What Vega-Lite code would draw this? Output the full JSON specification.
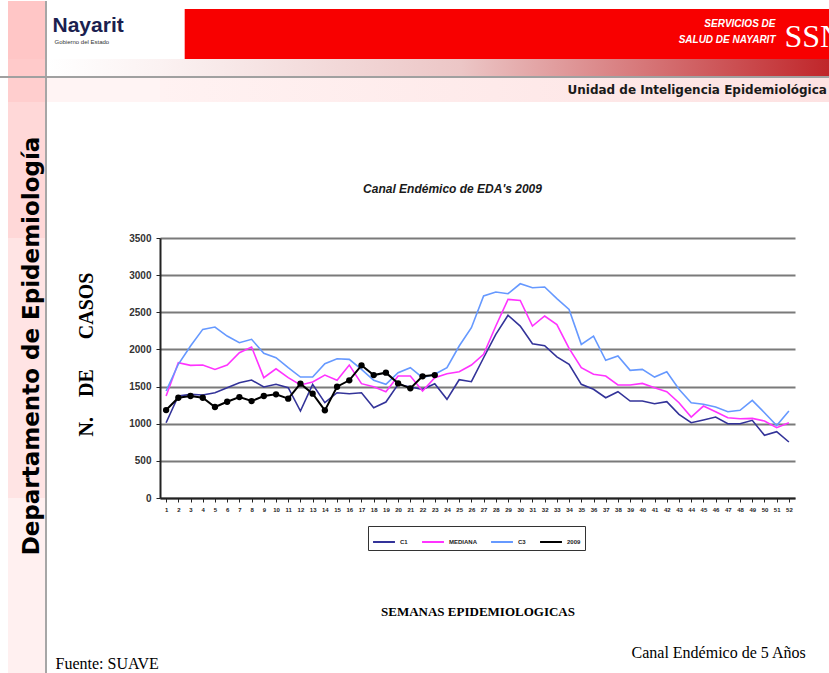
{
  "$schema": "https://vega.github.io/schema/vega-lite/v6.json",
  "padding": 0,
  "background": "white",
  "config": {"view": {"stroke": null}, "font": "Liberation Sans"},
  "bounds": "flush",
  "spacing": 0,
  "columns": 3,
  "concat": [
    {"width": 47, "height": 8, "view": {"fill": {"gradient": "linear", "x1": 0, "y1": 0, "x2": 1, "y2": 0, "stops": [{"offset": 0, "color": "#FFFFFF"}, {"offset": 0.16, "color": "#FFFFFF"}, {"offset": 0.17, "color": "#FFC6C6"}, {"offset": 0.955, "color": "#FFC6C6"}, {"offset": 0.96, "color": "#A6A6A6"}, {"offset": 1, "color": "#A6A6A6"}]}}, "data": {"values": [{"t": ""}]}, "mark": {"type": "text", "fontSize": 1}, "encoding": {"text": {"field": "t"}}},
    {"width": 1, "height": 1, "data": {"values": [{"t": ""}]}, "mark": {"type": "text", "fontSize": 1}, "encoding": {"text": {"field": "t"}}},
    {"width": 1, "height": 1, "data": {"values": [{"t": ""}]}, "mark": {"type": "text", "fontSize": 1}, "encoding": {"text": {"field": "t"}}},

    {"width": 47, "height": 50, "view": {"fill": {"gradient": "linear", "x1": 0, "y1": 0, "x2": 1, "y2": 0, "stops": [{"offset": 0, "color": "#FFFFFF"}, {"offset": 0.16, "color": "#FFFFFF"}, {"offset": 0.17, "color": "#FFC6C6"}, {"offset": 0.955, "color": "#FFC6C6"}, {"offset": 0.96, "color": "#A6A6A6"}, {"offset": 1, "color": "#A6A6A6"}]}}, "data": {"values": [{"t": ""}]}, "mark": {"type": "text", "fontSize": 1}, "encoding": {"text": {"field": "t"}}},
    {
      "width": 113, "height": 50,
      "data": {"values": [{"t": "Nayarit", "s": "Gobierno del Estado"}]},
      "layer": [
        {"mark": {"type": "text", "font": "Liberation Sans", "fontSize": 21, "fontWeight": "bold", "color": "#1B1F4F", "align": "left", "baseline": "alphabetic", "dx": -51, "dy": -2}, "encoding": {"text": {"field": "t"}}},
        {"mark": {"type": "text", "font": "Liberation Sans", "fontSize": 6, "color": "#333333", "align": "left", "baseline": "alphabetic", "dx": -49, "dy": 10}, "encoding": {"text": {"field": "s"}}}
      ]
    },
    {
      "width": 669, "height": 50,
      "view": {"fill": {"gradient": "linear", "x1": 0, "y1": 0, "x2": 1, "y2": 0, "stops": [{"offset": 0, "color": "#FFFFFF"}, {"offset": 0.036, "color": "#FFFFFF"}, {"offset": 0.038, "color": "#F80000"}, {"offset": 1, "color": "#F80000"}]}},
      "data": {"values": [{"a": "SERVICIOS DE", "b": "SALUD DE NAYARIT", "c": "SSN"}]},
      "layer": [
        {"mark": {"type": "text", "font": "Liberation Sans", "fontSize": 10, "fontWeight": "bold", "fontStyle": "italic", "color": "white", "align": "right", "baseline": "alphabetic", "dx": 281, "dy": -7}, "encoding": {"text": {"field": "a"}}},
        {"mark": {"type": "text", "font": "Liberation Sans", "fontSize": 10, "fontWeight": "bold", "fontStyle": "italic", "color": "white", "align": "right", "baseline": "alphabetic", "dx": 281, "dy": 9}, "encoding": {"text": {"field": "b"}}},
        {"mark": {"type": "text", "font": "Liberation Sans Narrow", "fontSize": 32, "color": "white", "align": "left", "baseline": "alphabetic", "dx": 290, "dy": 13}, "encoding": {"text": {"field": "c"}}}
      ]
    },

    {"width": 47, "height": 17, "view": {"fill": {"gradient": "linear", "x1": 0, "y1": 0, "x2": 1, "y2": 0, "stops": [{"offset": 0, "color": "#FFFFFF"}, {"offset": 0.16, "color": "#FFFFFF"}, {"offset": 0.17, "color": "#FFCACA"}, {"offset": 0.955, "color": "#FFCACA"}, {"offset": 0.96, "color": "#A6A6A6"}, {"offset": 1, "color": "#A6A6A6"}]}}, "data": {"values": [{"t": ""}]}, "mark": {"type": "text", "fontSize": 1}, "encoding": {"text": {"field": "t"}}},
    {"width": 113, "height": 17, "view": {"fill": {"gradient": "linear", "x1": 0, "y1": 0, "x2": 1, "y2": 0, "stops": [{"offset": 0, "color": "#FFFFFF"}, {"offset": 1, "color": "#FBF2F2"}]}}, "data": {"values": [{"t": ""}]}, "mark": {"type": "text", "fontSize": 1}, "encoding": {"text": {"field": "t"}}},
    {"width": 669, "height": 17, "view": {"fill": {"gradient": "linear", "x1": 0, "y1": 0, "x2": 1, "y2": 0, "stops": [{"offset": 0, "color": "#FBF2F2"}, {"offset": 0.45, "color": "#ECC6C6"}, {"offset": 1, "color": "#C0262A"}]}}, "data": {"values": [{"t": ""}]}, "mark": {"type": "text", "fontSize": 1}, "encoding": {"text": {"field": "t"}}},

    {"width": 47, "height": 2, "view": {"fill": "#A0A0A0"}, "data": {"values": [{"t": ""}]}, "mark": {"type": "text", "fontSize": 1}, "encoding": {"text": {"field": "t"}}},
    {"width": 113, "height": 2, "view": {"fill": "#A0A0A0"}, "data": {"values": [{"t": ""}]}, "mark": {"type": "text", "fontSize": 1}, "encoding": {"text": {"field": "t"}}},
    {"width": 669, "height": 2, "view": {"fill": "#A0A0A0"}, "data": {"values": [{"t": ""}]}, "mark": {"type": "text", "fontSize": 1}, "encoding": {"text": {"field": "t"}}},

    {"width": 47, "height": 24, "view": {"fill": {"gradient": "linear", "x1": 0, "y1": 0, "x2": 1, "y2": 0, "stops": [{"offset": 0, "color": "#FFFFFF"}, {"offset": 0.16, "color": "#FFFFFF"}, {"offset": 0.17, "color": "#FFCECE"}, {"offset": 0.955, "color": "#FFCECE"}, {"offset": 0.96, "color": "#A6A6A6"}, {"offset": 1, "color": "#A6A6A6"}]}}, "data": {"values": [{"t": ""}]}, "mark": {"type": "text", "fontSize": 1}, "encoding": {"text": {"field": "t"}}},
    {"width": 113, "height": 24, "view": {"fill": "#FFF4F4"}, "data": {"values": [{"t": ""}]}, "mark": {"type": "text", "fontSize": 1}, "encoding": {"text": {"field": "t"}}},
    {
      "width": 669, "height": 24,
      "view": {"fill": {"gradient": "linear", "x1": 0, "y1": 0, "x2": 1, "y2": 0, "stops": [{"offset": 0, "color": "#FFF2F2"}, {"offset": 1, "color": "#FDE2E2"}]}},
      "data": {"values": [{"t": "Unidad de Inteligencia Epidemiológica"}]},
      "mark": {"type": "text", "font": "DejaVu Sans", "fontSize": 12, "fontWeight": "bold", "color": "#1a1a1a", "align": "left", "baseline": "alphabetic", "dx": 73, "dy": 4},
      "encoding": {"text": {"field": "t"}}
    },

    {"width": 47, "height": 136, "view": {"fill": {"gradient": "linear", "x1": 0, "y1": 0, "x2": 1, "y2": 0, "stops": [{"offset": 0, "color": "#FFFFFF"}, {"offset": 0.16, "color": "#FFFFFF"}, {"offset": 0.17, "color": "#FFD8D8"}, {"offset": 0.955, "color": "#FFD8D8"}, {"offset": 0.96, "color": "#A6A6A6"}, {"offset": 1, "color": "#A6A6A6"}]}}, "data": {"values": [{"t": ""}]}, "mark": {"type": "text", "fontSize": 1}, "encoding": {"text": {"field": "t"}}},
    {"width": 1, "height": 1, "data": {"values": [{"t": ""}]}, "mark": {"type": "text", "fontSize": 1}, "encoding": {"text": {"field": "t"}}},
    {"width": 1, "height": 1, "data": {"values": [{"t": ""}]}, "mark": {"type": "text", "fontSize": 1}, "encoding": {"text": {"field": "t"}}},

    {"width": 47, "height": 260, "view": {"fill": {"gradient": "linear", "x1": 0, "y1": 0, "x2": 1, "y2": 0, "stops": [{"offset": 0, "color": "#FFFFFF"}, {"offset": 0.16, "color": "#FFFFFF"}, {"offset": 0.17, "color": "#FFE4E4"}, {"offset": 0.955, "color": "#FFE4E4"}, {"offset": 0.96, "color": "#A6A6A6"}, {"offset": 1, "color": "#A6A6A6"}]}}, "data": {"values": [{"t": ""}]}, "mark": {"type": "text", "fontSize": 1}, "encoding": {"text": {"field": "t"}}},
    {"width": 1, "height": 1, "data": {"values": [{"t": ""}]}, "mark": {"type": "text", "fontSize": 1}, "encoding": {"text": {"field": "t"}}},
    {
      "width": 635, "height": 260,
      "title": {"text": "Canal Endémico de EDA's 2009", "font": "Liberation Sans", "fontSize": 12, "fontWeight": "bold", "fontStyle": "italic", "color": "#1a1a1a", "anchor": "middle", "offset": 37, "dx": -25},
      "data": {"values": [
        {"semana":1,"C1":1013,"MEDIANA":1373,"C3":1440,"2009":1184},
        {"semana":2,"C1":1373,"MEDIANA":1821,"C3":1800,"2009":1350},
        {"semana":3,"C1":1395,"MEDIANA":1786,"C3":2046,"2009":1373},
        {"semana":4,"C1":1386,"MEDIANA":1790,"C3":2270,"2009":1350},
        {"semana":5,"C1":1417,"MEDIANA":1731,"C3":2301,"2009":1225},
        {"semana":6,"C1":1485,"MEDIANA":1790,"C3":2180,"2009":1296},
        {"semana":7,"C1":1552,"MEDIANA":1956,"C3":2090,"2009":1359},
        {"semana":8,"C1":1588,"MEDIANA":2032,"C3":2136,"2009":1305},
        {"semana":9,"C1":1494,"MEDIANA":1620,"C3":1947,"2009":1373},
        {"semana":10,"C1":1530,"MEDIANA":1740,"C3":1888,"2009":1395},
        {"semana":11,"C1":1485,"MEDIANA":1620,"C3":1754,"2009":1337},
        {"semana":12,"C1":1171,"MEDIANA":1521,"C3":1628,"2009":1539},
        {"semana":13,"C1":1530,"MEDIANA":1561,"C3":1628,"2009":1404},
        {"semana":14,"C1":1283,"MEDIANA":1655,"C3":1808,"2009":1180},
        {"semana":15,"C1":1417,"MEDIANA":1584,"C3":1875,"2009":1498},
        {"semana":16,"C1":1404,"MEDIANA":1790,"C3":1866,"2009":1584},
        {"semana":17,"C1":1417,"MEDIANA":1539,"C3":1731,"2009":1786},
        {"semana":18,"C1":1216,"MEDIANA":1498,"C3":1584,"2009":1655},
        {"semana":19,"C1":1292,"MEDIANA":1431,"C3":1530,"2009":1687},
        {"semana":20,"C1":1530,"MEDIANA":1642,"C3":1687,"2009":1543},
        {"semana":21,"C1":1494,"MEDIANA":1642,"C3":1754,"2009":1476},
        {"semana":22,"C1":1463,"MEDIANA":1440,"C3":1620,"2009":1638},
        {"semana":23,"C1":1539,"MEDIANA":1620,"C3":1665,"2009":1655},
        {"semana":24,"C1":1328,"MEDIANA":1673,"C3":1754},
        {"semana":25,"C1":1592,"MEDIANA":1700,"C3":2046},
        {"semana":26,"C1":1566,"MEDIANA":1790,"C3":2292},
        {"semana":27,"C1":1888,"MEDIANA":1934,"C3":2719},
        {"semana":28,"C1":2203,"MEDIANA":2315,"C3":2772},
        {"semana":29,"C1":2459,"MEDIANA":2674,"C3":2750},
        {"semana":30,"C1":2315,"MEDIANA":2660,"C3":2884},
        {"semana":31,"C1":2077,"MEDIANA":2315,"C3":2830},
        {"semana":32,"C1":2050,"MEDIANA":2450,"C3":2840},
        {"semana":33,"C1":1900,"MEDIANA":2335,"C3":2685},
        {"semana":34,"C1":1799,"MEDIANA":2015,"C3":2539},
        {"semana":35,"C1":1530,"MEDIANA":1754,"C3":2068},
        {"semana":36,"C1":1463,"MEDIANA":1665,"C3":2180},
        {"semana":37,"C1":1350,"MEDIANA":1642,"C3":1853},
        {"semana":38,"C1":1431,"MEDIANA":1521,"C3":1911},
        {"semana":39,"C1":1305,"MEDIANA":1521,"C3":1718},
        {"semana":40,"C1":1305,"MEDIANA":1543,"C3":1731},
        {"semana":41,"C1":1269,"MEDIANA":1485,"C3":1628},
        {"semana":42,"C1":1296,"MEDIANA":1431,"C3":1700},
        {"semana":43,"C1":1126,"MEDIANA":1283,"C3":1463},
        {"semana":44,"C1":1013,"MEDIANA":1090,"C3":1283},
        {"semana":45,"C1":1050,"MEDIANA":1238,"C3":1261},
        {"semana":46,"C1":1090,"MEDIANA":1162,"C3":1225},
        {"semana":47,"C1":1000,"MEDIANA":1081,"C3":1162},
        {"semana":48,"C1":1000,"MEDIANA":1067,"C3":1180},
        {"semana":49,"C1":1046,"MEDIANA":1072,"C3":1315},
        {"semana":50,"C1":844,"MEDIANA":1036,"C3":1148},
        {"semana":51,"C1":892,"MEDIANA":946,"C3":975},
        {"semana":52,"C1":754,"MEDIANA":1013,"C3":1171}
      ]},
      "transform": [
        {"fold": ["C1", "MEDIANA", "C3", "2009"], "as": ["serie", "casos"]},
        {"filter": "isValid(datum.casos)"}
      ],
      "encoding": {
        "x": {
          "field": "semana", "type": "ordinal",
          "scale": {"type": "point", "padding": 0.5},
          "title": "SEMANAS EPIDEMIOLOGICAS",
          "axis": {"labelAngle": 0, "labelFontSize": 6, "labelFont": "Liberation Sans", "labelFontWeight": "bold", "labelColor": "#222222", "labelOverlap": false, "labelPadding": 4, "ticks": true, "tickSize": 4, "tickColor": "#222222", "domainColor": "#222222", "domainWidth": 2, "grid": false, "titleFont": "Liberation Serif", "titleFontSize": 13, "titleFontWeight": "bold", "titleColor": "black", "titlePadding": 93}
        },
        "y": {
          "field": "casos", "type": "quantitative",
          "scale": {"domain": [0, 3500]},
          "title": "N.\u00a0\u00a0\u00a0\u00a0DE\u00a0\u00a0\u00a0\u00a0\u00a0\u00a0CASOS",
          "axis": {"values": [0, 500, 1000, 1500, 2000, 2500, 3000, 3500], "format": "d", "labelFontSize": 10, "labelFont": "Liberation Sans", "labelFontWeight": "bold", "labelColor": "#333333", "labelPadding": 5, "tickSize": 4, "tickColor": "#222222", "domainColor": "#222222", "domainWidth": 2, "grid": true, "gridColor": "#7A7A7A", "gridWidth": 2, "titleFont": "Liberation Serif", "titleFontSize": 20, "titleFontWeight": "bold", "titleColor": "black", "titlePadding": 32, "titleY": 116}
        },
        "color": {
          "field": "serie", "type": "nominal",
          "scale": {"domain": ["C1", "MEDIANA", "C3", "2009"], "range": ["#333399", "#FF33FF", "#6699FF", "#000000"]},
          "legend": {"orient": "none", "legendX": 368, "legendY": 525, "direction": "horizontal", "title": null, "strokeColor": "#333333", "fillColor": "white", "padding": 4, "labelFontSize": 6, "labelFont": "Liberation Sans", "labelFontWeight": "bold", "labelColor": "#222222", "symbolType": "stroke", "symbolSize": 480, "symbolStrokeWidth": 2, "columnPadding": 10, "labelOffset": 4}
        }
      },
      "layer": [
        {"transform": [{"filter": "datum.serie != '2009'"}], "mark": {"type": "line", "strokeWidth": 1.6}},
        {"transform": [{"filter": "datum.serie == '2009'"}], "mark": {"type": "line", "strokeWidth": 2, "point": {"filled": true, "size": 40, "color": "black"}}}
      ]
    },

    {
      "width": 47, "height": 176,
      "view": {"fill": {"gradient": "linear", "x1": 0, "y1": 0, "x2": 1, "y2": 0, "stops": [{"offset": 0, "color": "#FFFFFF"}, {"offset": 0.16, "color": "#FFFFFF"}, {"offset": 0.17, "color": "#FFF0F0"}, {"offset": 0.955, "color": "#FFF0F0"}, {"offset": 0.96, "color": "#A6A6A6"}, {"offset": 1, "color": "#A6A6A6"}]}},
      "data": {"values": [{"t": "Departamento de Epidemiología"}]},
      "mark": {"type": "text", "angle": 270, "font": "DejaVu Sans", "fontSize": 23, "fontWeight": "bold", "color": "black", "align": "center", "baseline": "middle", "dx": 240, "dy": 8},
      "encoding": {"text": {"field": "t"}}
    },
    {"width": 1, "height": 1, "data": {"values": [{"t": ""}]}, "mark": {"type": "text", "fontSize": 1}, "encoding": {"text": {"field": "t"}}},
    {
      "width": 669, "height": 176,
      "data": {"values": [{"f": "Fuente: SUAVE", "c": "Canal Endémico de 5 Años"}]},
      "layer": [
        {"mark": {"type": "text", "font": "Liberation Serif", "fontSize": 16, "color": "black", "align": "left", "baseline": "alphabetic", "dx": -439, "dy": 83}, "encoding": {"text": {"field": "f"}}},
        {"mark": {"type": "text", "font": "Liberation Serif", "fontSize": 16, "color": "black", "align": "left", "baseline": "alphabetic", "dx": 137, "dy": 72}, "encoding": {"text": {"field": "c"}}}
      ]
    }
  ]
}
